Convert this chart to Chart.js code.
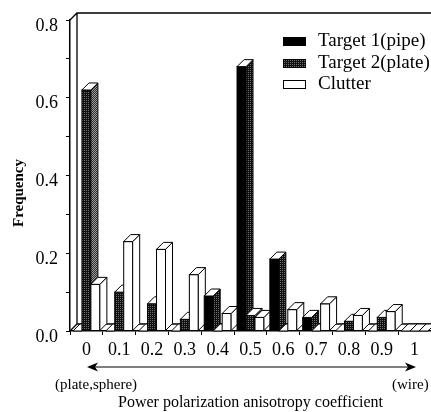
<!DOCTYPE html>
<html><head><meta charset="utf-8">
<script src="https://cdn.jsdelivr.net/npm/chart.js@4.4.0/dist/chart.umd.min.js"></script>
<style>html,body{margin:0;padding:0;background:#fff;}#wrap{width:431px;height:412px;position:relative;}</style>
</head><body><div id="wrap"><canvas id="c" width="431" height="412"></canvas></div>
<script>
const categories = ['0','0.1','0.2','0.3','0.4','0.5','0.6','0.7','0.8','0.9','1'];
const target1Values = [0, 0, 0, 0, 0.09, 0.68, 0.185, 0.035, 0, 0, 0];
const target2Values = [0.62, 0.10, 0.07, 0.03, 0, 0.04, 0, 0, 0.025, 0.035, 0];
const clutterValues = [0.12, 0.23, 0.21, 0.145, 0.045, 0.035, 0.055, 0.07, 0.04, 0.05, 0];
const seriesNames = ['Target 1(pipe)', 'Target 2(plate)', 'Clutter'];
const yTickValues = [0, 0.2, 0.4, 0.6, 0.8];
const yTickLabels = ['0.0', '0.2', '0.4', '0.6', '0.8'];
const yTitle = 'Frequency';
const xTitle = 'Power polarization anisotropy coefficient';
const leftNote = '(plate,sphere)';
const rightNote = '(wire)';

const SERIF = '"Liberation Serif", "DejaVu Serif", serif';
const D = 7; // 3D depth in px

function makePattern(bg, dot, both) {
  const c = document.createElement('canvas');
  c.width = 2; c.height = 2;
  const x = c.getContext('2d');
  x.fillStyle = bg; x.fillRect(0, 0, 2, 2);
  x.fillStyle = dot; x.fillRect(0, 0, 1, 1);
  if (both) x.fillRect(1, 1, 1, 1);
  return x.createPattern(c, 'repeat');
}
const patDark = makePattern('#101010', '#707070', false);
const patLight = makePattern('#333333', '#999999', true);

const fronts = ['#000000', patDark, '#ffffff'];
const sides = [patDark, patLight, '#ffffff'];

const bars3d = {
  id: 'bars3d',
  beforeDatasetsDraw(chart) {
    const ctx = chart.ctx, a = chart.chartArea;
    ctx.save();
    ctx.strokeStyle = '#000';
    ctx.lineWidth = 1.3;
    ctx.beginPath();
    ctx.moveTo(a.left, a.top); ctx.lineTo(a.left + D, a.top - D);
    ctx.lineTo(a.right + 5, a.top - D);
    ctx.moveTo(a.left + D, a.top - D); ctx.lineTo(a.left + D, a.bottom - D);
    ctx.moveTo(a.left, a.bottom); ctx.lineTo(a.left + D, a.bottom - D);
    ctx.lineTo(a.right + 5, a.bottom - D);
    ctx.stroke();
    ctx.restore();
  },
  afterDatasetsDraw(chart) {
    const ctx = chart.ctx;
    const metas = [0, 1, 2].map(i => chart.getDatasetMeta(i));
    const n = categories.length;
    ctx.save();
    ctx.lineWidth = 1;
    ctx.strokeStyle = '#000';
    for (let j = 0; j < n; j++) {
      for (let i = 0; i < 3; i++) {
        const el = metas[i].data[j];
        if (!el) continue;
        const p = el.getProps(['x', 'y', 'base', 'width'], true);
        const l = p.x - p.width / 2, r = p.x + p.width / 2;
        const t = Math.min(p.y, p.base), b = p.base;
        if (b - t > 0.5) {
          ctx.fillStyle = fronts[i];
          ctx.fillRect(l, t, r - l, b - t);
          ctx.strokeRect(l, t, r - l, b - t);
          ctx.beginPath();
          ctx.moveTo(r, t); ctx.lineTo(r + D, t - D); ctx.lineTo(r + D, b - D); ctx.lineTo(r, b); ctx.closePath();
          ctx.fillStyle = sides[i]; ctx.fill(); ctx.stroke();
        }
        ctx.beginPath();
        ctx.moveTo(l, t); ctx.lineTo(l + D, t - D); ctx.lineTo(r + D, t - D); ctx.lineTo(r, t); ctx.closePath();
        ctx.fillStyle = '#ffffff'; ctx.fill(); ctx.stroke();
      }
    }
    ctx.restore();
  },
  afterDraw(chart) {
    const ctx = chart.ctx;
    ctx.save();
    ctx.fillStyle = '#000';
    ctx.font = 'bold 15px ' + SERIF;
    ctx.textAlign = 'center'; ctx.textBaseline = 'middle';
    ctx.translate(19, 193); ctx.rotate(-Math.PI / 2);
    ctx.fillText(yTitle, 0, 0);
    ctx.restore();

    ctx.save();
    const lx = 283, ly = [41, 63, 84];
    ctx.font = '19px ' + SERIF;
    ctx.textAlign = 'left'; ctx.textBaseline = 'middle';
    ctx.lineWidth = 1; ctx.strokeStyle = '#000';
    for (let i = 0; i < 3; i++) {
      ctx.fillStyle = fronts[i];
      ctx.fillRect(lx, ly[i] - 4, 23, 9);
      ctx.strokeRect(lx + 0.5, ly[i] - 3.5, 22, 8);
      ctx.fillStyle = '#000';
      ctx.fillText(seriesNames[i], 318, ly[i]);
    }
    ctx.restore();

    ctx.save();
    const ay = 367, ax1 = 87, ax2 = 416;
    ctx.strokeStyle = '#000'; ctx.fillStyle = '#000'; ctx.lineWidth = 1.2;
    ctx.beginPath(); ctx.moveTo(ax1 + 6, ay); ctx.lineTo(ax2 - 6, ay); ctx.stroke();
    ctx.beginPath(); ctx.moveTo(ax1, ay); ctx.lineTo(ax1 + 11, ay - 4.5); ctx.lineTo(ax1 + 8, ay); ctx.lineTo(ax1 + 11, ay + 4.5); ctx.closePath(); ctx.fill();
    ctx.beginPath(); ctx.moveTo(ax2, ay); ctx.lineTo(ax2 - 11, ay - 4.5); ctx.lineTo(ax2 - 8, ay); ctx.lineTo(ax2 - 11, ay + 4.5); ctx.closePath(); ctx.fill();
    ctx.font = '15px ' + SERIF;
    ctx.textBaseline = 'middle';
    ctx.textAlign = 'left';
    ctx.fillText(leftNote, 55, 385);
    ctx.fillText(rightNote, 392, 385);
    ctx.restore();
  }
};

const allYTicks = [];
for (let k = 0; k < yTickValues.length; k++) {
  allYTicks.push(yTickValues[k]);
  if (k < yTickValues.length - 1) allYTicks.push((yTickValues[k] + yTickValues[k + 1]) / 2);
}

new Chart(document.getElementById('c'), {
  type: 'bar',
  data: {
    labels: categories,
    datasets: [
      { label: seriesNames[0], data: target1Values, backgroundColor: fronts[0], borderColor: '#000', borderWidth: 1 },
      { label: seriesNames[1], data: target2Values, backgroundColor: fronts[1], borderColor: '#000', borderWidth: 1 },
      { label: seriesNames[2], data: clutterValues, backgroundColor: fronts[2], borderColor: '#000', borderWidth: 1 }
    ]
  },
  options: {
    responsive: false,
    animation: false,
    devicePixelRatio: 1,
    layout: { padding: { top: 20, right: 0, left: 0, bottom: 0 } },
    datasets: { bar: { categoryPercentage: 0.82, barPercentage: 1.0 } },
    plugins: { legend: { display: false }, tooltip: { enabled: false } },
    scales: {
      x: {
        grid: { display: true, drawOnChartArea: false, drawTicks: true, tickLength: 4, color: '#000', lineWidth: 1 },
        border: { display: true, color: '#000', width: 1.5 },
        ticks: { color: '#000', font: { family: SERIF, size: 18 }, padding: 4, maxRotation: 0, autoSkip: false },
        title: { display: true, text: xTitle, color: '#000', font: { family: SERIF, size: 16 }, padding: { top: 0, bottom: 0 } },
        afterFit(scale) { scale.height = 81; }
      },
      y: {
        min: 0, max: 0.8,
        afterBuildTicks(scale) { scale.ticks = allYTicks.map(v => ({ value: v })); },
        grid: { display: true, drawOnChartArea: false, drawTicks: true, tickLength: 4, color: '#000', lineWidth: 1 },
        border: { display: true, color: '#000', width: 1.5 },
        ticks: {
          color: '#000', font: { family: SERIF, size: 18 }, padding: 8, labelOffset: 6,
          callback(v) {
            const k = yTickValues.findIndex(t => Math.abs(t - v) < 1e-9);
            return k >= 0 ? yTickLabels[k] : '';
          }
        },
        afterFit(scale) { scale.width = 70; }
      }
    }
  },
  plugins: [bars3d]
});
</script></body></html>
